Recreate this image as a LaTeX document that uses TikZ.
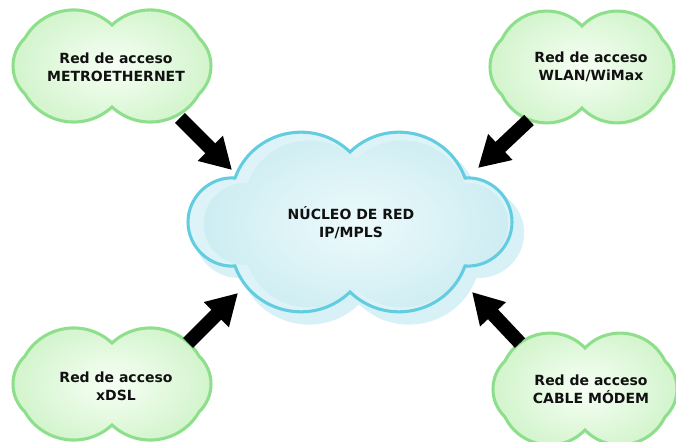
\documentclass[tikz,border=0pt]{standalone}
\usepackage{fontspec}
\setmainfont{DejaVu Sans}
\usetikzlibrary{arrows.meta}
\definecolor{gline}{HTML}{8EDF8B}
\definecolor{gin}{HTML}{F7FFF5}
\definecolor{gout}{HTML}{D2F4CC}
\definecolor{cline}{HTML}{62CDE0}
\definecolor{cband}{HTML}{DDF3F7}
\definecolor{cin}{HTML}{EDFAFC}
\definecolor{cout}{HTML}{CDEDF2}
\definecolor{cshadow}{HTML}{D8F1F6}
\definecolor{txt}{HTML}{111111}
% #1 a (half width), #2 s, #3 h (side notches), #4 t (top notch),
% #5 alpha, #6 beta, #7 looseness top bumps, #8 gamma, #9 looseness side bumps
\tikzset{
  cloudp/.style n args={9}{insert path={
    (-#2,#3) to[out=#5,in=#6,looseness=#7] (0,#4)
    to[out=180-#6,in=180-#5,looseness=#7] (#2,#3)
    to[out=#8+180,in=90,looseness=#9] (#1,0)
    to[out=-90,in=180-#8,looseness=#9] (#2,-#3)
    to[out=#5+180,in=#6+180,looseness=#7] (0,-#4)
    to[out=360-#6,in=360-#5,looseness=#7] (-#2,-#3)
    to[out=#8,in=-90,looseness=#9] (-#1,0)
    to[out=90,in=360-#8,looseness=#9] cycle}},
  corep/.style={cloudp={162}{115}{44}{70}{70}{136}{1.1}{184}{1.0}},
  accp/.style={cloudp={99}{87}{28}{41}{60}{137}{1.05}{136}{0.9}},
  accnarrowp/.style={cloudp={92}{80}{28}{41}{64}{134}{1.08}{136}{0.9}},
  gcloud/.style={draw=gline, line width=2.3pt, inner color=gin, outer color=gout},
  cband/.style={fill=cband},
  cinner/.style={inner color=cin, outer color=cout},
  cedge/.style={draw=cline, line width=2.3pt},
  shadowcloud/.style={fill=cshadow},
  label/.style={font=\bfseries\fontsize{10.5}{13.5}\selectfont, text=txt, align=center, inner sep=0pt},
  bigarrow/.style={line width=10.5pt, -{Triangle[length=23pt,width=25pt]}, black}
}
\begin{document}
\begin{tikzpicture}[x=0.75pt,y=-0.75pt]
\useasboundingbox (0,0) rectangle (676,442);
\clip (0,0) rectangle (676,442);
% core cloud shadow
\begin{scope}[shift={(359,233)}, x=0.75pt, y=0.75pt, scale=1.02]
  \fill[shadowcloud] [corep];
\end{scope}
% core cloud: light band, inner shaded body, outline
\begin{scope}[shift={(350,222)}, x=0.75pt, y=0.75pt]
  \fill[cband] [corep];
\end{scope}
\begin{scope}[shift={(356,224)}, x=0.75pt, y=0.75pt, xscale=0.94, yscale=0.93]
  \path[cinner] [corep];
\end{scope}
\begin{scope}[shift={(350,222)}, x=0.75pt, y=0.75pt]
  \draw[cedge] [corep];
\end{scope}
% access clouds
\begin{scope}[shift={(112,66)}, x=0.75pt, y=0.75pt]
  \path[gcloud] [accp];
\end{scope}
\begin{scope}[shift={(582,67)}, x=0.75pt, y=0.75pt]
  \path[gcloud] [accnarrowp];
\end{scope}
\begin{scope}[shift={(112,384)}, x=0.75pt, y=0.75pt]
  \path[gcloud] [accp];
\end{scope}
\begin{scope}[shift={(585,389)}, x=0.75pt, y=0.75pt]
  \path[gcloud] [accnarrowp];
\end{scope}
% labels
\node[label] (core) at (351,223) {NÚCLEO DE RED\\IP/MPLS};
\node[label] (tl) at (116,67) {Red de acceso\\METROETHERNET};
\node[label] (tr) at (591,67) {Red de acceso\\WLAN/WiMax};
\node[label] (bl) at (116,386) {Red de acceso\\xDSL};
\node[label] (br) at (591,389) {Red de acceso\\CABLE MÓDEM};
% arrows
\coordinate (tlA) at (180,118); \coordinate (tlB) at (232,170);
\coordinate (trA) at (529,120); \coordinate (trB) at (478,168);
\coordinate (blA) at (188,343); \coordinate (blB) at (238,293);
\coordinate (brA) at (520,343); \coordinate (brB) at (472,292);
\draw[bigarrow] (tlA) -- (tlB);
\draw[bigarrow] (trA) -- (trB);
\draw[bigarrow] (blA) -- (blB);
\draw[bigarrow] (brA) -- (brB);
\end{tikzpicture}
\end{document}
